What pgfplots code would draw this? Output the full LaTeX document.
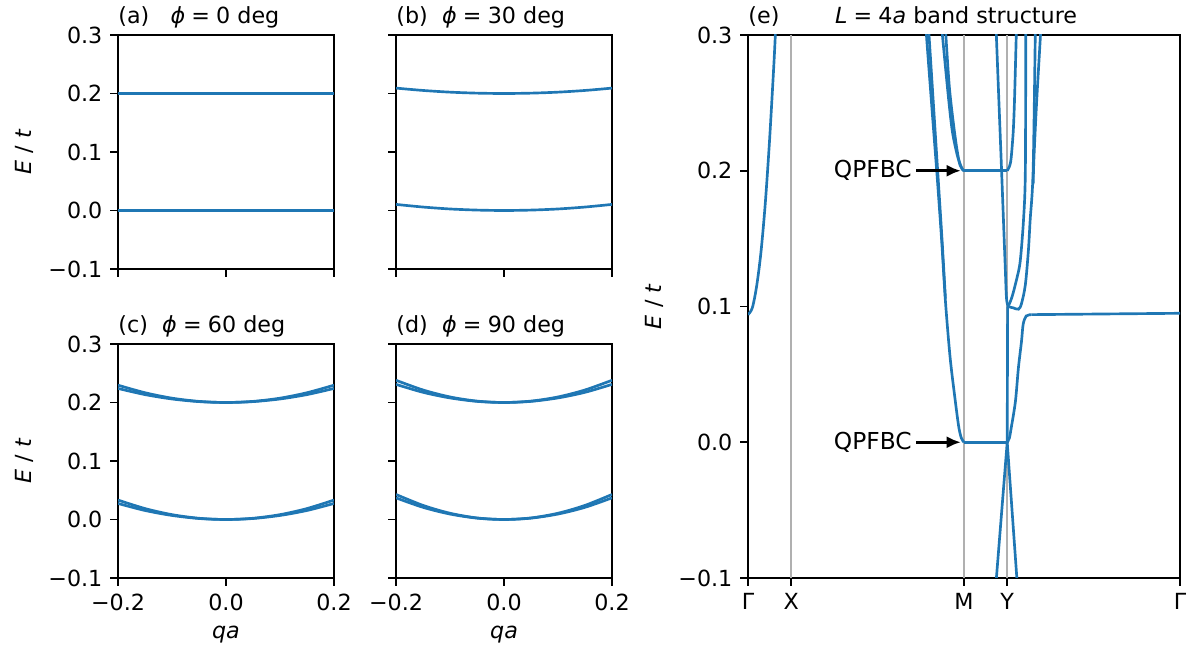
\documentclass[border=0pt]{standalone}
\usepackage{fontspec}
\setmainfont{DejaVu Sans}
\usepackage{pgfplots}
\pgfplotsset{compat=1.18}
\usetikzlibrary{arrows.meta}
\definecolor{mblue}{HTML}{1F77B4}
\definecolor{vgray}{HTML}{B0B0B0}
\newcommand{\fs}{\fontsize{10}{12}\selectfont}
\newcommand{\ttl}[1]{\node[anchor=base west, inner sep=0pt, font=\fs] at (rel axis cs:0,1) [yshift=5pt] {#1};}
\pgfplotsset{
 base/.style={
  scale only axis, clip mode=individual,
  ymin=-0.1, ymax=0.3,
  ytick={-0.1,0,0.1,0.2,0.3},
  tick align=outside, tick pos=left, major tick length=3.5pt,
  every tick/.style={black,line width=0.8pt},
  axis line style={line width=0.8pt},
  tick label style={font=\fs},
  label style={font=\fs},
 },
 small/.style={base, width=97.2pt, height=105.3pt,
  xmin=-0.2, xmax=0.2, xtick={-0.2,0,0.2}},
 bl/.style={mblue, line width=1.2pt, no markers},
 bls/.style={mblue, line width=1.2pt, no markers, smooth},
 vg/.style={vgray, line width=0.7pt, no markers},
}
\begin{document}
\begin{tikzpicture}
\path[use as bounding box] (0,0) rectangle (535.95pt,293.85pt);
% (a)
\begin{axis}[small, at={(53.1pt,172.8pt)}, anchor=south west,
  xticklabels={,,}, yticklabels={−0.1,0.0,0.1,0.2,0.3},
  ylabel={\textit{E} / \textit{t}}]
\addplot[bl] coordinates {(-0.2,0.2) (0.2,0.2)};
\addplot[bl] coordinates {(-0.2,0.0) (0.2,0.0)};
\ttl{(a)\hspace{0.95em}\textit{ϕ}\hspace{0.28em}=\hspace{0.28em}0 deg}
\end{axis}
% (b)
\begin{axis}[small, at={(178.2pt,172.8pt)}, anchor=south west,
  xticklabels={,,}, yticklabels={,,,,}]
\addplot[bls] coordinates {(-0.2,0.2092) (-0.15,0.2052) (-0.1,0.2023) (-0.05,0.2006) (0,0.2) (0.05,0.2006) (0.1,0.2023) (0.15,0.2052) (0.2,0.2092)};
\addplot[bls] coordinates {(-0.2,0.0104) (-0.15,0.0059) (-0.1,0.0026) (-0.05,0.0007) (0,0.0) (0.05,0.0007) (0.1,0.0026) (0.15,0.0059) (0.2,0.0104)};
\ttl{(b)\hspace{0.64em}\textit{ϕ}\hspace{0.28em}=\hspace{0.28em}30 deg}
\end{axis}
% (c)
\begin{axis}[small, at={(53.1pt,33.75pt)}, anchor=south west,
  xticklabels={−0.2,0.0,0.2}, yticklabels={−0.1,0.0,0.1,0.2,0.3},
  ylabel={\textit{E} / \textit{t}}, xlabel={\textit{qa}}]
\addplot[bls] coordinates {(-0.2,0.2296) (-0.15,0.2167) (-0.1,0.2074) (-0.05,0.2019) (0,0.2) (0.05,0.2019) (0.1,0.2074) (0.15,0.2167) (0.2,0.2296)};
\addplot[bls] coordinates {(-0.2,0.2240) (-0.15,0.2135) (-0.1,0.2060) (-0.05,0.2015) (0,0.2) (0.05,0.2015) (0.1,0.2060) (0.15,0.2135) (0.2,0.2240)};
\addplot[bls] coordinates {(-0.2,0.0332) (-0.15,0.0187) (-0.1,0.0083) (-0.05,0.0021) (0,0.0) (0.05,0.0021) (0.1,0.0083) (0.15,0.0187) (0.2,0.0332)};
\addplot[bls] coordinates {(-0.2,0.0274) (-0.15,0.0154) (-0.1,0.0069) (-0.05,0.0017) (0,0.0) (0.05,0.0017) (0.1,0.0069) (0.15,0.0154) (0.2,0.0274)};
\ttl{(c)\hspace{0.64em}\textit{ϕ}\hspace{0.28em}=\hspace{0.28em}60 deg}
\end{axis}
% (d)
\begin{axis}[small, at={(178.2pt,33.75pt)}, anchor=south west,
  xticklabels={−0.2,0.0,0.2}, yticklabels={,,,,}, xlabel={\textit{qa}}]
\addplot[bls] coordinates {(-0.2,0.2380) (-0.15,0.2214) (-0.1,0.2095) (-0.05,0.2024) (0,0.2) (0.05,0.2024) (0.1,0.2095) (0.15,0.2214) (0.2,0.2380)};
\addplot[bls] coordinates {(-0.2,0.2310) (-0.15,0.2174) (-0.1,0.2078) (-0.05,0.2019) (0,0.2) (0.05,0.2019) (0.1,0.2078) (0.15,0.2174) (0.2,0.2310)};
\addplot[bls] coordinates {(-0.2,0.0428) (-0.15,0.0241) (-0.1,0.0107) (-0.05,0.0027) (0,0.0) (0.05,0.0027) (0.1,0.0107) (0.15,0.0241) (0.2,0.0428)};
\addplot[bls] coordinates {(-0.2,0.0370) (-0.15,0.0208) (-0.1,0.0093) (-0.05,0.0023) (0,0.0) (0.05,0.0023) (0.1,0.0093) (0.15,0.0208) (0.2,0.0370)};
\ttl{(d)\hspace{0.64em}\textit{ϕ}\hspace{0.28em}=\hspace{0.28em}90 deg}
\end{axis}
% (e)
\begin{axis}[base, at={(336.6pt,33.75pt)}, anchor=south west,
  width=194.4pt, height=244.35pt,
  xmin=0, xmax=10, xtick={0,1,5,6,10}, xticklabels={Γ,X,M,Y,Γ},
  yticklabels={−0.1,0.0,0.1,0.2,0.3},
  ylabel={\textit{E} / \textit{t}}]
\addplot[vg] coordinates {(1,-0.1) (1,0.3)};
\addplot[vg] coordinates {(5,-0.1) (5,0.3)};
\addplot[vg] coordinates {(6,-0.1) (6,0.3)};
% Gamma-X band
\addplot[bls] coordinates {(0,0.094) (0.1,0.099) (0.2,0.115) (0.3,0.140) (0.4,0.176) (0.5,0.223) (0.6,0.279) (0.64,0.305)};
% lower band towards M
\addplot[bls] coordinates {(4.10,0.315) (4.13,0.30) (4.26,0.245) (4.38,0.195) (4.48,0.150) (4.57,0.104) (4.68,0.062) (4.80,0.030) (4.88,0.011) (4.94,0.003) (5.0,0.0)};
\addplot[bls] coordinates {(4.16,0.315) (4.22,0.285) (4.30,0.245) (4.40,0.195) (4.49,0.150) (4.57,0.106)};
% upper band towards M
\addplot[bls] coordinates {(4.48,0.31) (4.50,0.30) (4.64,0.254) (4.73,0.229) (4.84,0.212) (4.91,0.205) (4.96,0.201) (5.0,0.2)};
\addplot[bls] coordinates {(4.57,0.31) (4.58,0.30) (4.66,0.262) (4.75,0.236) (4.84,0.215) (4.91,0.204) (5.0,0.2)};
% flat bands M-Y
\addplot[bl] coordinates {(5,0.0) (6,0.0)};
\addplot[bl] coordinates {(5,0.2) (6,0.2)};
% upper band rising after Y
\addplot[bls] coordinates {(6,0.2) (6.05,0.203) (6.09,0.209) (6.14,0.229) (6.17,0.253) (6.21,0.3) (6.22,0.31)};
% lower band rising to plateau
\addplot[bls] coordinates {(6,0.0) (6.05,0.003) (6.09,0.010) (6.19,0.030) (6.26,0.055) (6.33,0.074) (6.37,0.087) (6.44,0.093) (6.56,0.094)};
\addplot[bl] coordinates {(6.56,0.094) (10,0.095)};
% V at Y
\addplot[bl] coordinates {(5.72,-0.112) (6.0,0.0)};
\addplot[bl] coordinates {(6.0,0.0) (6.25,-0.112)};
\addplot[bl] coordinates {(6.0,0.0) (6.005,0.05) (6.01,0.1)};
% band B
\addplot[bls] coordinates {(5.74,0.31) (5.75,0.299) (5.87,0.2) (5.95,0.133) (5.99,0.104) (6.07,0.0995) (6.14,0.099) (6.26,0.098) (6.33,0.102) (6.42,0.116) (6.49,0.141) (6.53,0.163) (6.60,0.2) (6.65,0.3) (6.655,0.31)};
\addplot[bls] coordinates {(6.60,0.19) (6.62,0.21) (6.68,0.25) (6.77,0.3) (6.78,0.31)};
% band C
\addplot[bls] coordinates {(6.43,0.31) (6.43,0.3) (6.42,0.2) (6.38,0.165) (6.30,0.133) (6.21,0.119) (6.12,0.108) (6.05,0.102) (6.0,0.101)};
% annotations
\draw[-{Latex[length=6.5pt,width=5.5pt]}, line width=1.4pt] (axis cs:3.90,0.2) -- (axis cs:4.93,0.2);
\node[anchor=east, font=\fontsize{10.5}{12}\selectfont, inner sep=0pt] at (axis cs:3.80,0.2) {QPFBC};
\draw[-{Latex[length=6.5pt,width=5.5pt]}, line width=1.4pt] (axis cs:3.90,0.0) -- (axis cs:4.93,0.0);
\node[anchor=east, font=\fontsize{10.5}{12}\selectfont, inner sep=0pt] at (axis cs:3.80,0.0) {QPFBC};
\ttl{(e)\hspace{2.5em}\textit{L}\hspace{0.28em}=\hspace{0.28em}4\textit{a} band structure}
\end{axis}
\end{tikzpicture}
\end{document}
